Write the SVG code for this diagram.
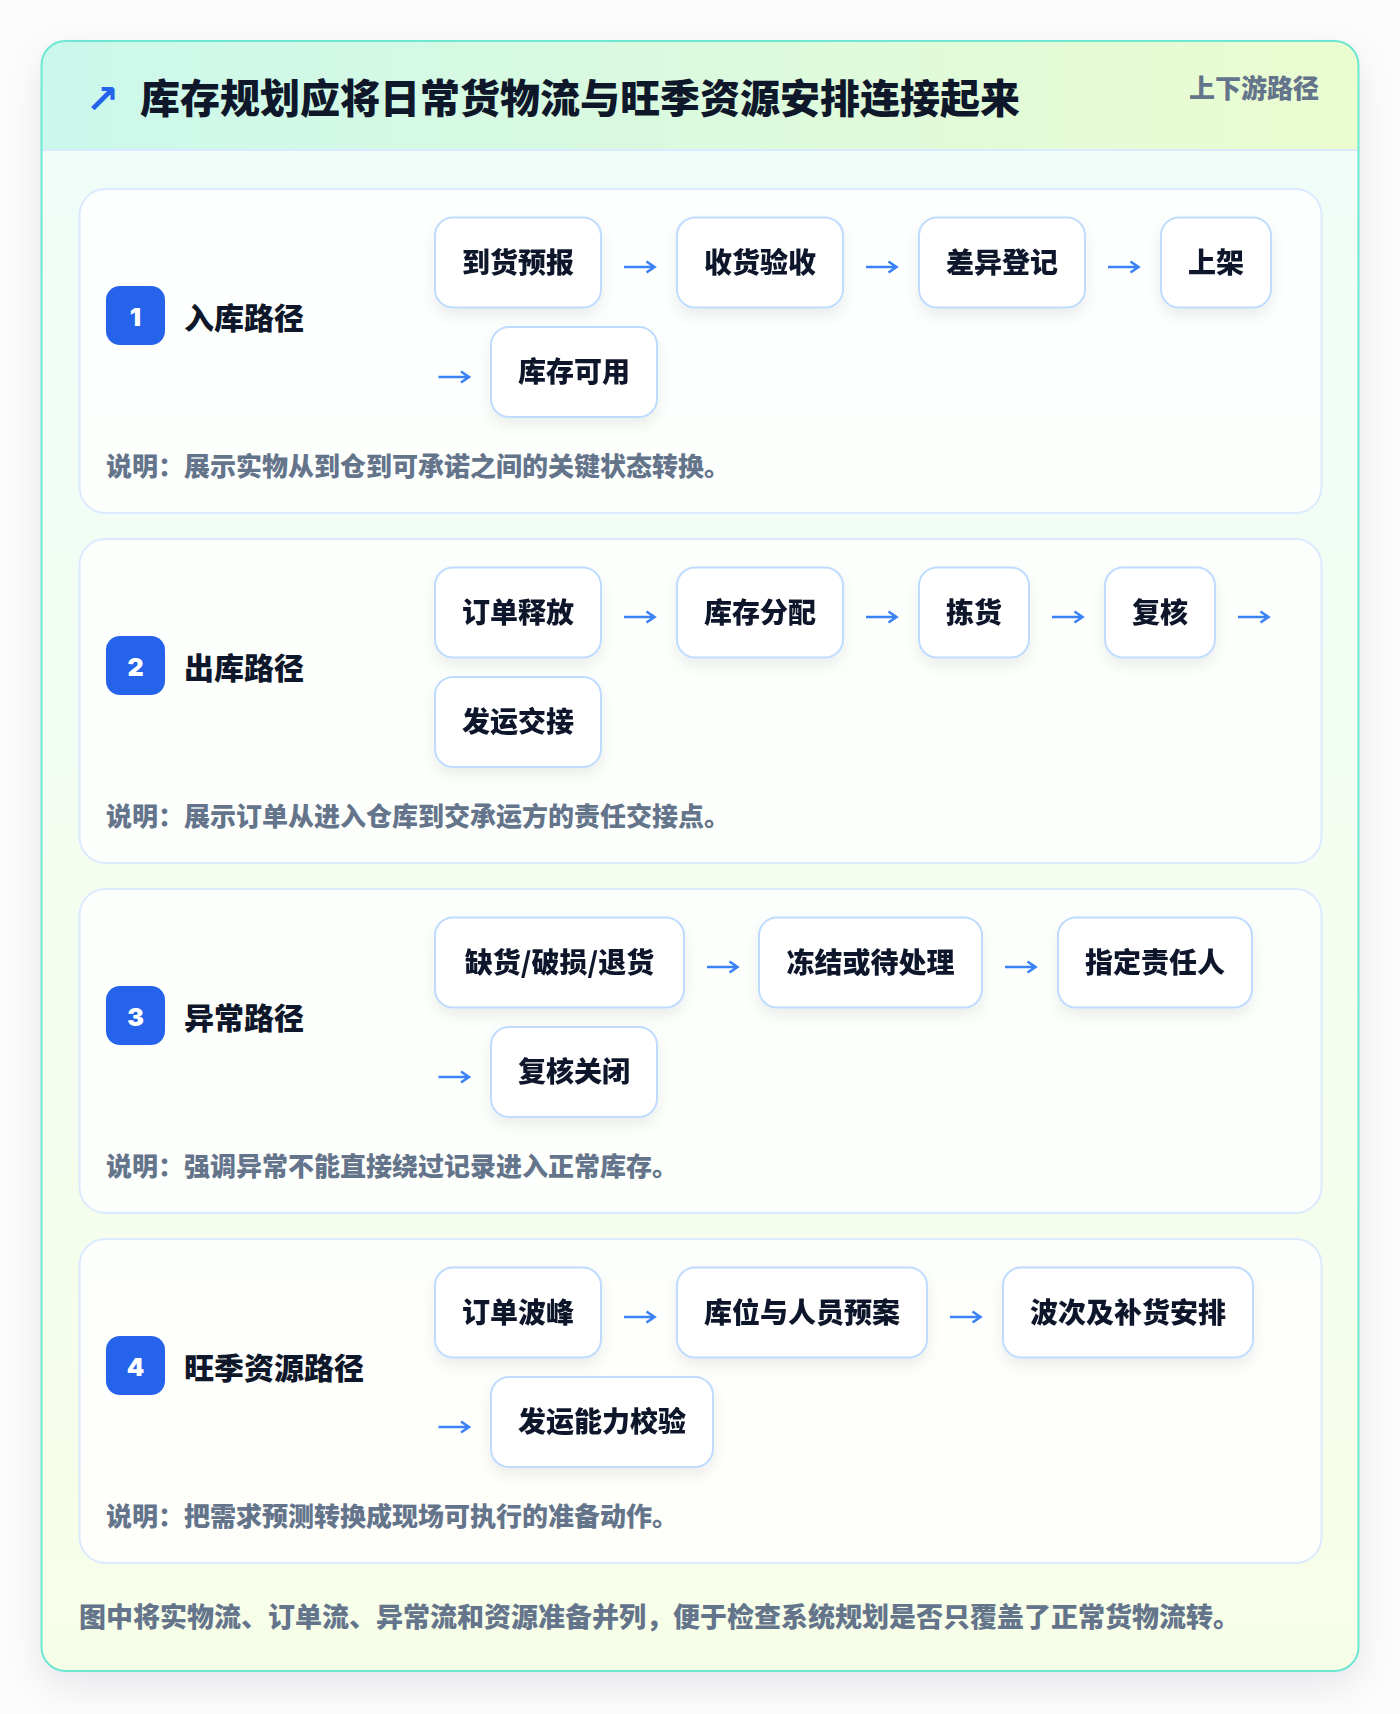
<svg xmlns="http://www.w3.org/2000/svg" xmlns:xlink="http://www.w3.org/1999/xlink" width="1400" height="1714" viewBox="0 0 1400 1714">
<defs>
<linearGradient id="hdr" x1="0" y1="0" x2="1" y2="0">
<stop offset="0" stop-color="#cbf8ec"/>
<stop offset="1" stop-color="#ebfcd0"/>
</linearGradient>
<linearGradient id="body" x1="0" y1="0" x2="0" y2="1">
<stop offset="0" stop-color="#effdf9"/>
<stop offset="1" stop-color="#f7fee8"/>
</linearGradient>
<clipPath id="cardClip"><rect x="41.5" y="41" width="1317" height="1630" rx="24"/></clipPath>
<filter id="bigShadow" x="-10%" y="-10%" width="120%" height="120%">
<feDropShadow dx="0" dy="14" stdDeviation="18" flood-color="#0f172a" flood-opacity="0.09"/>
</filter>
<filter id="nodeShadow" x="-20%" y="-30%" width="140%" height="180%">
<feDropShadow dx="0" dy="7" stdDeviation="7" flood-color="#0f172a" flood-opacity="0.07"/>
</filter>
<g id="arr"><path d="M0 0 H30 M22.5 -5.5 L30.5 0 L22.5 5.5" fill="none" stroke="#3b82f6" stroke-width="2.6" stroke-linejoin="miter"/></g>
<style>
.cjk{font-family:"Noto Sans CJK SC","Noto Sans",sans-serif;}
.title{font-size:40px;font-weight:900;fill:#0f172a;}
.tag{font-size:26px;font-weight:800;fill:#64748b;}
.sec{fill:#ffffff;fill-opacity:0.82;stroke:#dbeafe;stroke-width:2;}
.badge{fill:#2563eb;}
.num{font-family:Inter,"Noto Sans",sans-serif;font-size:25px;font-weight:900;fill:#ffffff;text-anchor:middle;}
.lbl{font-size:30px;font-weight:900;fill:#0f172a;}
.desc{font-size:26px;font-weight:800;fill:#64748b;}
.foot{font-size:27px;font-weight:800;fill:#64748b;}
.node rect{fill:#ffffff;stroke:#bfdbfe;stroke-width:2;}
.node text{font-family:"Noto Sans CJK SC","Noto Sans",sans-serif;font-size:28px;font-weight:900;fill:#0f172a;text-anchor:middle;}
</style>
</defs>
<rect x="0" y="0" width="1400" height="1714" fill="#fcfcfd"/>
<g id="frame">
<rect x="41.5" y="41" width="1317" height="1630" rx="24" fill="url(#body)" filter="url(#bigShadow)"/>
<rect x="41.5" y="41" width="1317" height="109" fill="url(#hdr)" clip-path="url(#cardClip)"/>
<line x1="42.5" y1="150" x2="1357.5" y2="150" stroke="#dbeafe" stroke-width="2"/>
<rect x="41.5" y="41" width="1317" height="1630" rx="24" fill="none" stroke="#6ee7d2" stroke-width="2"/>
</g>
<g id="header">
<text x="85.5" y="113" font-family="DejaVu Sans,sans-serif" font-size="40" font-weight="700" fill="#2563eb">↗</text>
<text class="cjk title" x="140" y="113">库存规划应将日常货物流与旺季资源安排连接起来</text>
<text class="cjk tag" x="1319" y="98" text-anchor="end">上下游路径</text>
</g>

<g id="section1">
<rect class="sec" x="79.5" y="189" width="1242" height="324" rx="26"/>
<rect class="badge" x="106" y="286" width="59" height="59" rx="14"/>
<text class="num" x="135.5" y="326">1</text>
<text class="cjk lbl" x="184" y="329">入库路径</text>
<text class="cjk desc" x="106" y="476">说明：展示实物从到仓到可承诺之间的关键状态转换。</text>
</g>
<g id="n1a" class="node" filter="url(#nodeShadow)"><rect x="435" y="217.5" width="166" height="90" rx="18"/><text x="518" y="272.5">到货预报</text></g>
<g id="n1b" class="node" filter="url(#nodeShadow)"><rect x="677" y="217.5" width="166" height="90" rx="18"/><text x="760" y="272.5">收货验收</text></g>
<g id="n1c" class="node" filter="url(#nodeShadow)"><rect x="919" y="217.5" width="166" height="90" rx="18"/><text x="1002" y="272.5">差异登记</text></g>
<g id="n1d" class="node" filter="url(#nodeShadow)"><rect x="1161" y="217.5" width="110" height="90" rx="18"/><text x="1216" y="272.5">上架</text></g>
<g id="n1e" class="node" filter="url(#nodeShadow)"><rect x="491" y="327" width="166" height="90" rx="18"/><text x="574" y="382">库存可用</text></g>

<g id="section2">
<rect class="sec" x="79.5" y="539" width="1242" height="324" rx="26"/>
<rect class="badge" x="106" y="636" width="59" height="59" rx="14"/>
<text class="num" x="135.5" y="676">2</text>
<text class="cjk lbl" x="184" y="679">出库路径</text>
<text class="cjk desc" x="106" y="826">说明：展示订单从进入仓库到交承运方的责任交接点。</text>
</g>
<g id="n2a" class="node" filter="url(#nodeShadow)"><rect x="435" y="567.5" width="166" height="90" rx="18"/><text x="518" y="622.5">订单释放</text></g>
<g id="n2b" class="node" filter="url(#nodeShadow)"><rect x="677" y="567.5" width="166" height="90" rx="18"/><text x="760" y="622.5">库存分配</text></g>
<g id="n2c" class="node" filter="url(#nodeShadow)"><rect x="919" y="567.5" width="110" height="90" rx="18"/><text x="974" y="622.5">拣货</text></g>
<g id="n2d" class="node" filter="url(#nodeShadow)"><rect x="1105" y="567.5" width="110" height="90" rx="18"/><text x="1160" y="622.5">复核</text></g>
<g id="n2e" class="node" filter="url(#nodeShadow)"><rect x="435" y="677" width="166" height="90" rx="18"/><text x="518" y="732">发运交接</text></g>

<g id="section3">
<rect class="sec" x="79.5" y="889" width="1242" height="324" rx="26"/>
<rect class="badge" x="106" y="986" width="59" height="59" rx="14"/>
<text class="num" x="135.5" y="1026">3</text>
<text class="cjk lbl" x="184" y="1029">异常路径</text>
<text class="cjk desc" x="106" y="1176">说明：强调异常不能直接绕过记录进入正常库存。</text>
</g>
<g id="n3a" class="node" filter="url(#nodeShadow)"><rect x="435" y="917.5" width="249" height="90" rx="18"/><text x="559.5" y="972.5">缺货/破损/退货</text></g>
<g id="n3b" class="node" filter="url(#nodeShadow)"><rect x="759" y="917.5" width="223" height="90" rx="18"/><text x="870.5" y="972.5">冻结或待处理</text></g>
<g id="n3c" class="node" filter="url(#nodeShadow)"><rect x="1058" y="917.5" width="194" height="90" rx="18"/><text x="1155" y="972.5">指定责任人</text></g>
<g id="n3d" class="node" filter="url(#nodeShadow)"><rect x="491" y="1027" width="166" height="90" rx="18"/><text x="574" y="1082">复核关闭</text></g>

<g id="section4">
<rect class="sec" x="79.5" y="1239" width="1242" height="324" rx="26"/>
<rect class="badge" x="106" y="1336" width="59" height="59" rx="14"/>
<text class="num" x="135.5" y="1376">4</text>
<text class="cjk lbl" x="184" y="1379">旺季资源路径</text>
<text class="cjk desc" x="106" y="1526">说明：把需求预测转换成现场可执行的准备动作。</text>
</g>
<g id="n4a" class="node" filter="url(#nodeShadow)"><rect x="435" y="1267.5" width="166" height="90" rx="18"/><text x="518" y="1322.5">订单波峰</text></g>
<g id="n4b" class="node" filter="url(#nodeShadow)"><rect x="677" y="1267.5" width="250" height="90" rx="18"/><text x="802" y="1322.5">库位与人员预案</text></g>
<g id="n4c" class="node" filter="url(#nodeShadow)"><rect x="1003" y="1267.5" width="250" height="90" rx="18"/><text x="1128" y="1322.5">波次及补货安排</text></g>
<g id="n4d" class="node" filter="url(#nodeShadow)"><rect x="491" y="1377" width="222" height="90" rx="18"/><text x="602" y="1432">发运能力校验</text></g>

<g id="connectors">
<use xlink:href="#arr" x="624" y="267"/>
<use xlink:href="#arr" x="866" y="267"/>
<use xlink:href="#arr" x="1108" y="267"/>
<use xlink:href="#arr" x="438.5" y="377"/>
<use xlink:href="#arr" x="624" y="617"/>
<use xlink:href="#arr" x="866" y="617"/>
<use xlink:href="#arr" x="1052" y="617"/>
<use xlink:href="#arr" x="1238" y="617"/>
<use xlink:href="#arr" x="707" y="967"/>
<use xlink:href="#arr" x="1005" y="967"/>
<use xlink:href="#arr" x="438.5" y="1077"/>
<use xlink:href="#arr" x="624" y="1317"/>
<use xlink:href="#arr" x="950" y="1317"/>
<use xlink:href="#arr" x="438.5" y="1427"/>
</g>

<g id="footer">
<text class="cjk foot" x="79" y="1627">图中将实物流、订单流、异常流和资源准备并列，便于检查系统规划是否只覆盖了正常货物流转。</text>
</g>
</svg>
